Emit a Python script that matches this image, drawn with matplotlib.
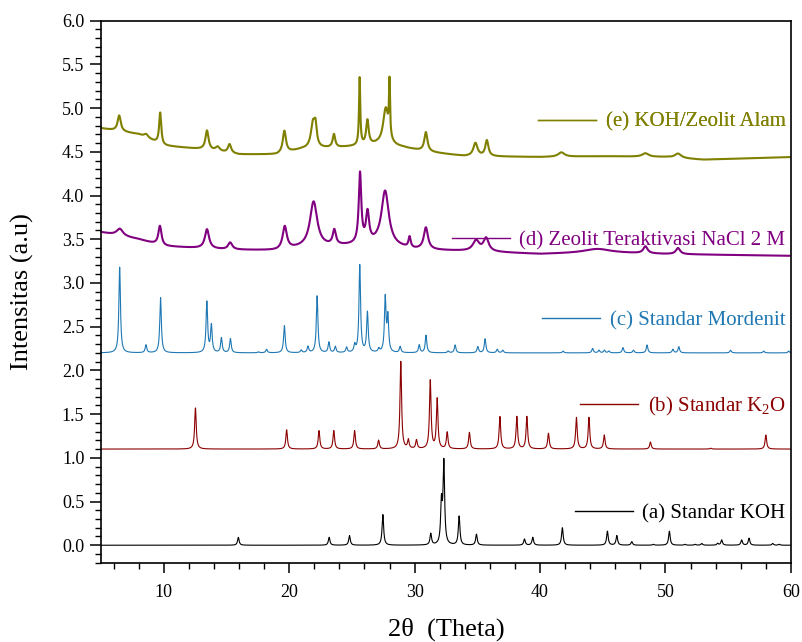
import numpy as np
import matplotlib
matplotlib.use("Agg")
import matplotlib.pyplot as plt
from matplotlib.lines import Line2D
from matplotlib.ticker import MultipleLocator

plt.rcParams['font.family'] = ['Liberation Serif', 'DejaVu Serif']
plt.rcParams['mathtext.fontset'] = 'custom'
plt.rcParams['mathtext.rm'] = 'Liberation Serif'
plt.rcParams['mathtext.it'] = 'Liberation Serif:italic'

# sumbu 2theta
two_theta = np.linspace(5, 60, 5501)

# (a) Standar KOH - posisi puncak dan intensitas
koh_pos = [15.95, 23.19, 24.81, 27.47, 31.29, 32.14, 32.33, 33.55, 34.93, 38.76,
           39.42, 41.78, 45.37, 46.12, 47.31, 49.03, 50.31, 51.56, 52.36, 52.89,
           54.16, 54.48, 56.07, 56.66, 58.55, 59.07]
koh_int = [0.09, 0.09, 0.11, 0.35, 0.13, 0.46, 0.93, 0.33, 0.125, 0.07,
           0.09, 0.20, 0.16, 0.11, 0.04, 0.01, 0.16, 0.01, 0.01, 0.02,
           0.02, 0.06, 0.06, 0.08, 0.02, 0.01]

# (b) Standar K2O
k2o_pos = [12.53, 19.8, 22.38, 23.56, 25.22, 27.13, 28.9, 29.5, 30.15, 31.25,
           31.8, 32.6, 34.37, 36.8, 38.15, 38.95, 40.67, 42.9, 43.9, 45.12,
           48.8, 53.6, 58.0]
k2o_int = [0.47, 0.22, 0.21, 0.21, 0.21, 0.10, 1.00, 0.10, 0.10, 0.78,
           0.57, 0.19, 0.19, 0.37, 0.37, 0.37, 0.18, 0.36, 0.36, 0.16,
           0.08, 0.01, 0.16]

# (c) Standar Mordenit
mor_pos = [6.49, 8.59, 9.75, 13.44, 13.8, 14.6, 15.32, 17.56, 18.2, 19.62,
           20.96, 21.5, 22.23, 23.17, 23.68, 24.58, 25.23, 25.63, 26.24, 27.15,
           27.66, 27.87, 28.85, 30.37, 30.91, 32.68, 33.23, 35.04, 35.62, 36.59,
           37.03, 41.84, 44.19, 44.7, 45.13, 45.49, 46.61, 47.45, 48.53, 50.59,
           51.06, 55.19, 57.83, 59.82]
mor_int = [0.98, 0.09, 0.63, 0.58, 0.31, 0.17, 0.16, 0.01, 0.04, 0.31,
           0.03, 0.07, 0.65, 0.12, 0.07, 0.06, 0.08, 1.00, 0.46, 0.04,
           0.62, 0.40, 0.07, 0.09, 0.20, 0.02, 0.09, 0.07, 0.16, 0.04,
           0.03, 0.02, 0.05, 0.03, 0.03, 0.02, 0.06, 0.03, 0.09, 0.04,
           0.07, 0.03, 0.02, 0.02]

# (d) Zeolit Teraktivasi NaCl 2 M - garis dasar dan puncak lebar
nacl_base_x = [5, 8, 10, 15, 19, 21, 24, 27, 30, 35, 40, 45, 50, 60]
nacl_base_y = [3.58, 3.50, 3.42, 3.38, 3.37, 3.40, 3.42, 3.44, 3.38, 3.36, 3.33, 3.35, 3.33, 3.31]
nacl_pos = [6.5, 9.7, 13.45, 15.3, 19.65, 21.95, 23.6, 25.65, 26.25, 27.65,
            29.6, 30.9, 34.9, 35.7, 44.5, 48.4, 51.0]
nacl_int = [0.08, 0.22, 0.22, 0.08, 0.26, 0.52, 0.17, 0.80, 0.34, 0.62,
            0.12, 0.25, 0.12, 0.15, 0.04, 0.08, 0.07]
nacl_wid = [0.30, 0.15, 0.20, 0.20, 0.20, 0.35, 0.15, 0.12, 0.15, 0.35,
            0.10, 0.20, 0.30, 0.25, 1.20, 0.20, 0.20]

# (e) KOH/Zeolit Alam
alam_base_x = [5, 8, 10, 13, 16, 19, 21, 24, 27, 29, 31, 34, 40, 45, 50, 53, 60]
alam_base_y = [4.77, 4.70, 4.57, 4.53, 4.47, 4.47, 4.53, 4.55, 4.58, 4.55, 4.50, 4.45,
               4.44, 4.45, 4.44, 4.41, 4.44]
alam_pos = [6.45, 8.6, 9.72, 13.45, 14.3, 15.25, 19.62, 21.9, 22.1, 23.57,
            25.62, 26.24, 27.7, 28.0, 30.9, 34.85, 35.76, 41.7, 48.4, 51.0]
alam_int = [0.18, 0.04, 0.36, 0.22, 0.05, 0.10, 0.25, 0.28, 0.20, 0.15,
            0.77, 0.28, 0.42, 0.62, 0.22, 0.15, 0.18, 0.05, 0.04, 0.05]
alam_wid = [0.15, 0.20, 0.10, 0.15, 0.20, 0.15, 0.15, 0.20, 0.12, 0.12,
            0.06, 0.12, 0.25, 0.05, 0.15, 0.20, 0.15, 0.30, 0.30, 0.30]

labels = ["(a) Standar KOH", "(b) Standar K$_2$O", "(c) Standar Mordenit",
          "(d) Zeolit Teraktivasi NaCl 2 M", "(e) KOH/Zeolit Alam"]
colors = ["#000000", "#8B0000", "#1F78B4", "#800080", "#808000"]
offsets = [0.0, 1.1, 2.2]


def profile(pos, inten, width):
    """Jumlah puncak Lorentz pada grid 2theta."""
    y = np.zeros_like(two_theta)
    width = np.broadcast_to(width, len(pos))
    for p, h, w in zip(pos, inten, width):
        y += h / (1.0 + ((two_theta - p) / w) ** 2)
    return y


curves = [
    offsets[0] + profile(koh_pos, koh_int, 0.075),
    offsets[1] + profile(k2o_pos, k2o_int, 0.075),
    offsets[2] + profile(mor_pos, mor_int, 0.075),
    np.interp(two_theta, nacl_base_x, nacl_base_y) + profile(nacl_pos, nacl_int, nacl_wid),
    np.interp(two_theta, alam_base_x, alam_base_y) + profile(alam_pos, alam_int, alam_wid),
]
widths = [0.8, 0.8, 0.8, 1.5, 1.5]

fig = plt.figure(figsize=(8.02, 6.42), dpi=100)
ax = fig.add_axes([0.1259, 0.1235, 0.8603, 0.8443])

for y, c, lw in zip(curves, colors, widths):
    ax.plot(two_theta, y, color=c, linewidth=lw)

ax.set_xlim(5, 60)
ax.set_ylim(-0.2, 6.0)
ax.xaxis.set_major_locator(MultipleLocator(10))
ax.xaxis.set_minor_locator(MultipleLocator(2))
ax.yaxis.set_major_locator(MultipleLocator(0.5))
ax.yaxis.set_minor_locator(MultipleLocator(0.1))
ax.yaxis.set_major_formatter(matplotlib.ticker.FormatStrFormatter('%.1f'))
ax.tick_params(axis='x', which='major', direction='out', length=7, width=1.1, labelsize=13, pad=8)
ax.tick_params(axis='x', which='minor', direction='out', length=4, width=1.0)
ax.tick_params(axis='y', which='major', direction='out', length=8, width=1.1, labelsize=13, pad=4)
ax.tick_params(axis='y', which='minor', direction='out', length=4.5, width=1.0)
for s in ax.spines.values():
    s.set_linewidth(1.2)

ax.set_xlabel("2\u03b8  (Theta)", fontsize=19, labelpad=12)
ax.set_ylabel("Intensitas (a.u)", fontsize=19, labelpad=20)

# legenda terpisah di samping tiap kurva
leg_y = [0.090, 0.289, 0.446, 0.595, 0.813]
for lab, c, yy in zip(labels, colors, leg_y):
    h = Line2D([], [], color=c, linewidth=1.0)
    leg = ax.legend([h], [lab], loc='center right', bbox_to_anchor=(0.992, yy),
                    frameon=False, fontsize=15, handlelength=2.8, handletextpad=0.45,
                    borderpad=0, borderaxespad=0)
    for t in leg.get_texts():
        t.set_color(c)
    ax.add_artist(leg)

fig.savefig("out.png", dpi=100)
